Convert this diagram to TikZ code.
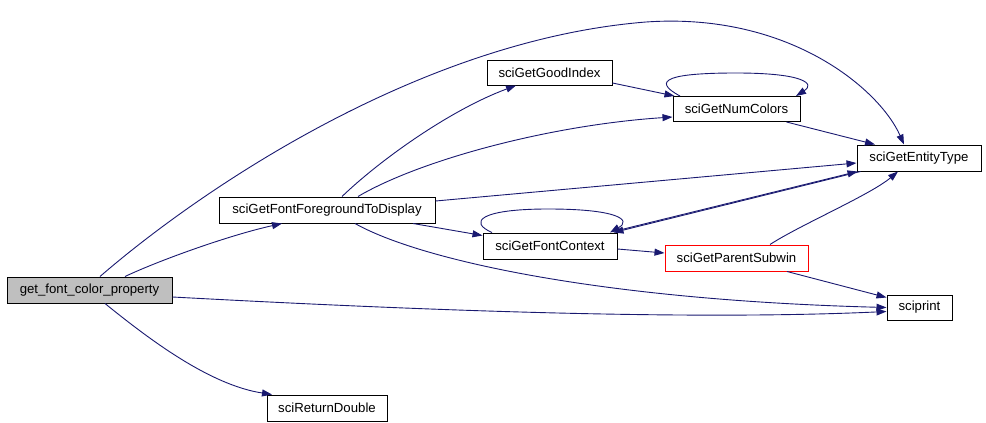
\documentclass[tikz,border=0pt]{standalone}
\usepackage{fontspec}
\setmainfont{Liberation Sans}
\usetikzlibrary{arrows.meta}
\definecolor{edgeblue}{HTML}{191970}
\definecolor{nodegray}{HTML}{BFBFBF}
\begin{document}
\begin{tikzpicture}[x=1pt,y=-1pt,
  box/.style={draw=black, line width=1pt, minimum height=26pt, inner sep=0pt,
    font=\fontsize{13.2}{15}\selectfont, fill=white},
  edge/.style={draw=edgeblue, line width=0.9pt, -{Triangle[length=10pt,width=7pt]}, fill=none}]
\useasboundingbox (0,0) rectangle (986,423);
% connectors first, boxes on top
\path[draw=none] (0,0);
\node[box, minimum width=165pt, fill=nodegray] (gfcp) at (89.5,290) {get\_font\_color\_property};
\node[box, minimum width=216pt] (fftd) at (327,210) {sciGetFontForegroundToDisplay};
\node[box, minimum width=120pt] (rd) at (327,408) {sciReturnDouble};
\node[box, minimum width=125pt, minimum height=25pt] (gi) at (549.5,72.5) {sciGetGoodIndex};
\node[box, minimum width=127pt, minimum height=25pt] (nc) at (736.5,109) {sciGetNumColors};
\node[box, minimum width=124pt] (et) at (919,158) {sciGetEntityType};
\node[box, minimum width=134pt] (fc) at (550,246) {sciGetFontContext};
\node[box, draw=red, minimum width=143pt] (ps) at (736.5,258) {sciGetParentSubwin};
\node[box, minimum width=65pt, minimum height=25pt] (sp) at (919.5,307.5) {sciprint};

\draw[edge] ([xshift=35.5pt]gfcp.north) .. controls (160,260) and (230,235) .. ([xshift=-45pt]fftd.south);
\draw[edge] ([xshift=10.5pt]gfcp.north) .. controls (200,190) and (420,40) .. (646,22) .. controls (790,12) and (880,90) .. ([xshift=-15pt]et.north);
\draw[edge] ([yshift=-7pt]gfcp.east) .. controls (450,312) and (700,320) .. ([yshift=-4pt]sp.west);
\draw[edge] ([xshift=15.5pt]gfcp.south) .. controls (150,340) and (210,385) .. ([xshift=-55pt]rd.north);

\draw[edge] ([xshift=15pt]fftd.north) .. controls (380,160) and (450,110) .. ([xshift=-33.5pt]gi.south);
\draw[edge] ([xshift=31pt]fftd.north) .. controls (420,160) and (550,125) .. ([yshift=-8pt]nc.west);
\draw[edge] ([yshift=9pt]fftd.east) -- ([yshift=-5pt]et.west);
\draw[edge] ([xshift=86pt]fftd.south) -- ([yshift=-3pt]fc.north west);
\draw[edge] ([xshift=28pt]fftd.south) .. controls (420,260) and (600,300) .. (sp.west);

\draw[edge] ([yshift=-10.5pt]gi.east) -- ([xshift=2pt]nc.north west);
\draw[edge] ([xshift=-56.5pt]nc.north) .. controls (650,80) and (670,73) .. (736,73) .. controls (805,73) and (815,84) .. ([xshift=59.5pt]nc.north);
\draw[edge] ([xshift=50pt]nc.south) -- ([xshift=-44pt]et.north);

\draw[edge] ([xshift=-58pt]fc.north) .. controls (468,222) and (480,209) .. (548,209) .. controls (618,209) and (632,220) .. ([xshift=60pt]fc.north);
\draw[edge] ([yshift=2pt]fc.north east) -- ([xshift=1pt]et.south west);
\draw[edge] ([xshift=4pt]et.south west) -- ([xshift=-4pt]fc.north east);
\draw[edge] ([yshift=-3pt]fc.east) -- ([yshift=5pt]ps.west);

\draw[edge] ([xshift=33.5pt]ps.north) .. controls (800,225) and (870,195) .. ([xshift=-21pt]et.south);
\draw[edge] ([xshift=50.5pt]ps.south) -- ([yshift=10pt]sp.west);
\end{tikzpicture}
\end{document}
